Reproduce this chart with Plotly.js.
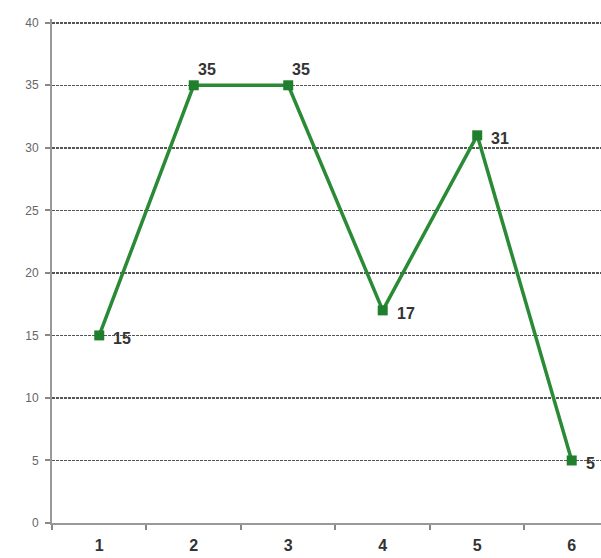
<!DOCTYPE html>
<html>
<head>
<meta charset="utf-8">
<script src="https://cdn.plot.ly/plotly-3.0.1.min.js"></script>
<style>html,body{margin:0;padding:0;background:#fff;}#chart{width:601px;height:558px;}</style>
</head>
<body>
<div id="chart"></div>
<script>
var categories = ["1", "2", "3", "4", "5", "6"];
var values = [15, 35, 35, 17, 31, 5];
var labels = ["15", "35", "35", "17", "31", "5"];
var yTicks = [0, 5, 10, 15, 20, 25, 30, 35, 40];

// label placement style: "right" = beside the point, "above" = above-right
var labelPlacement = ["right", "above", "above", "right", "right", "right"];

var trace = {
  x: categories,
  y: values,
  type: 'scatter',
  mode: 'lines+markers',
  line: {color: '#2a8a36', width: 3.5},
  marker: {symbol: 'square', size: 10, color: '#1f7f2c'},
  cliponaxis: false,
  hoverinfo: 'none'
};

var annotations = categories.map(function (c, i) {
  var above = labelPlacement[i] === 'above';
  return {
    x: i, y: values[i], xref: 'x', yref: 'y',
    text: labels[i], showarrow: false,
    xanchor: 'left', yanchor: above ? 'bottom' : 'middle',
    xshift: above ? 2 : 12, yshift: above ? 5 : -3,
    font: {family: 'Liberation Sans, Arial, sans-serif', size: 16, color: '#333', weight: 'bold'}
  };
});

var layout = {
  width: 601, height: 558,
  margin: {l: 52, r: 0, t: 19, b: 35, pad: 0},
  paper_bgcolor: '#fff', plot_bgcolor: '#fff',
  showlegend: false,
  font: {family: 'Liberation Sans, Arial, sans-serif'},
  annotations: annotations,
  xaxis: {
    type: 'category',
    range: [-0.5, 5.31],
    tickson: 'boundaries',
    ticks: 'outside', ticklen: 5, tickcolor: '#888', tickwidth: 2,
    showline: true, linecolor: '#999', linewidth: 2,
    showgrid: false, zeroline: false,
    tickfont: {size: 16, color: '#333', weight: 'bold'},
    ticklabelstandoff: 7
  },
  yaxis: {
    range: [0, 40.3],
    tickvals: yTicks,
    ticktext: yTicks.map(String),
    ticks: 'outside', ticklen: 5, tickcolor: '#888', tickwidth: 2,
    showline: true, linecolor: '#999', linewidth: 2,
    showgrid: true, gridcolor: '#555', gridwidth: 1.5, griddash: '3px,1px',
    zeroline: false,
    tickfont: {size: 12, color: '#666'},
    ticklabelstandoff: 4
  }
};

Plotly.newPlot('chart', [trace], layout, {displayModeBar: false, staticPlot: true});
</script>
</body>
</html>
